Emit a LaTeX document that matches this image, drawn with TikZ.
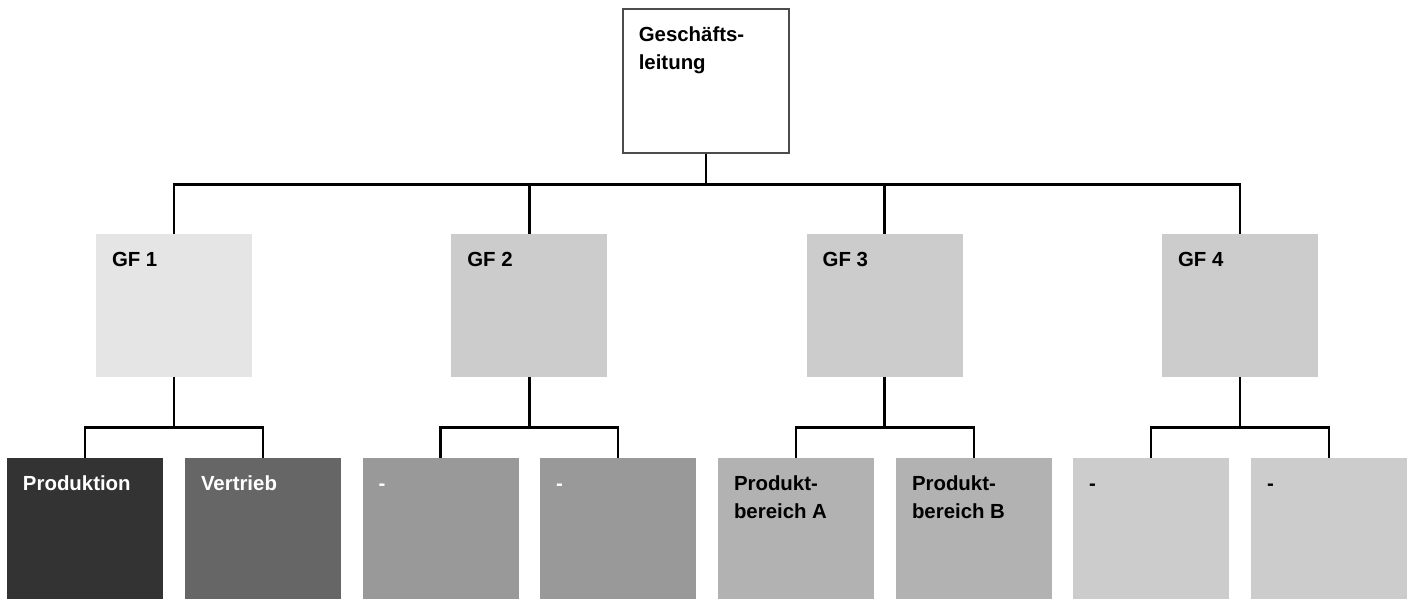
\documentclass[tikz,border=0pt]{standalone}
\usepackage{fontspec}
\setmainfont{Liberation Sans}
\usepackage{xcolor}
\usepackage{tikz}

\tikzset{
  box/.style={rectangle, inner sep=0pt, minimum width=78pt, minimum height=71.5pt},
  unit/.style={box, minimum height=70.5pt},
  txt/.style={anchor=base west, xshift=8pt, yshift=-16.5pt, inner sep=0pt, align=left},
  txttwo/.style={txt, yshift=-14pt}, % two lines: base is the second line
  wire/.style={line width=1.3pt},
}

\begin{document}
\begin{tikzpicture}[x=0.5pt, y=-0.5pt, every node/.append style={font=\bfseries\fontsize{10.2}{14}\selectfont}]
        \useasboundingbox (0,0) rectangle (1413,599);

        \node[box, draw=black!70, line width=0.6pt, minimum width=83pt, minimum height=72pt,
              label={[txttwo]north west:{Geschäfts-\\leitung}}] (gl) at (706,81) {};

        \node[box, fill=black!10, label={[txt]north west:{GF 1}}] (gf1) at (174,305.5) {};
        \node[box, fill=black!20, label={[txt]north west:{GF 2}}] (gf2) at (529.3,305.5) {};
        \node[box, fill=black!20, label={[txt]north west:{GF 3}}] (gf3) at (884.7,305.5) {};
        \node[box, fill=black!20, label={[txt]north west:{GF 4}}] (gf4) at (1240,305.5) {};

        \node[unit, fill=black!80, label={[txt, text=white]north west:Produktion}] (b1) at (85,528.5) {};
        \node[unit, fill=black!60, label={[txt, text=white]north west:Vertrieb}] (b2) at (263,528.5) {};
        \node[unit, fill=black!40, label={[txt, text=white]north west:-}] (b3) at (440.5,528.5) {};
        \node[unit, fill=black!40, label={[txt, text=white]north west:-}] (b4) at (618,528.5) {};
        \node[unit, fill=black!30, label={[txttwo]north west:{Produkt-\\bereich A}}] (b5) at (796,528.5) {};
        \node[unit, fill=black!30, label={[txttwo]north west:{Produkt-\\bereich B}}] (b6) at (974,528.5) {};
        \node[unit, fill=black!20, label={[txt]north west:-}] (b7) at (1151,528.5) {};
        \node[unit, fill=black!20, label={[txt]north west:-}] (b8) at (1329,528.5) {};

        % top level to the four GF boxes
        \draw[wire] (gl.south) -- ++(0,31) -| (gf1.north);
        \draw[wire] (gl.south) -- ++(0,31) -| (gf2.north);
        \draw[wire] (gl.south) -- ++(0,31) -| (gf3.north);
        \draw[wire] (gl.south) -- ++(0,31) -| (gf4.north);

        % GF boxes to their units
        \draw[wire] (gf1.south) -- ++(0,50) -| (b1.north);
        \draw[wire] (gf1.south) -- ++(0,50) -| (b2.north);
        \draw[wire] (gf2.south) -- ++(0,50) -| (b3.north);
        \draw[wire] (gf2.south) -- ++(0,50) -| (b4.north);
        \draw[wire] (gf3.south) -- ++(0,50) -| (b5.north);
        \draw[wire] (gf3.south) -- ++(0,50) -| (b6.north);
        \draw[wire] (gf4.south) -- ++(0,50) -| (b7.north);
        \draw[wire] (gf4.south) -- ++(0,50) -| (b8.north);
\end{tikzpicture}
\end{document}
